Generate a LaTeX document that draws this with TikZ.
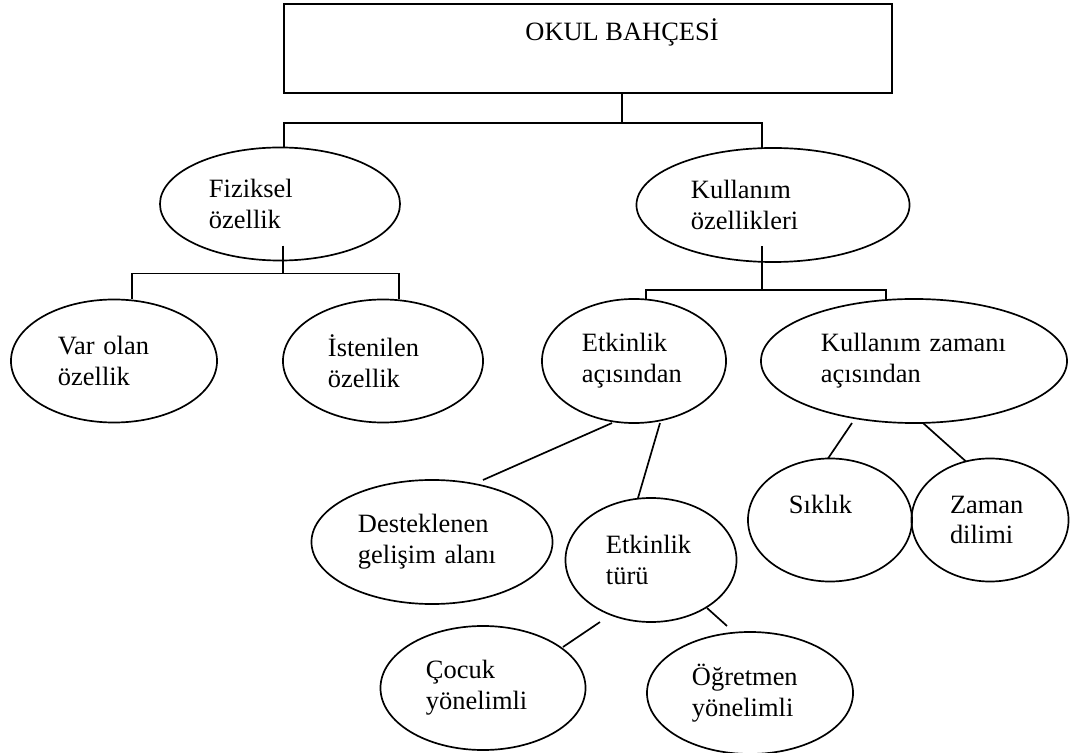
\documentclass[tikz,border=0pt]{standalone}
\usepackage{fontspec}
\setmainfont{Liberation Serif}
\usetikzlibrary{shapes.geometric,calc}

\begin{document}
\begin{tikzpicture}[x=0.025cm, y=-0.025cm, font=\fontsize{18.8}{22}\selectfont,
    ell/.style={draw, ellipse, line width=1.2pt, inner sep=0pt, outer sep=0pt, align=left},
    link/.style={line width=1.2pt}]
    \useasboundingbox (0,0) rectangle (1072,753);
    % top box
    \node[draw, line width=1.2pt, outer sep=0pt, anchor=north west, minimum width=15.2cm, minimum height=2.225cm] (okul) at (284,4) {};
    \node[anchor=base] (baslik) at (622,41) {OKUL BAHÇESİ};
    % second level
    \node[ell, minimum width=6cm, minimum height=2.825cm, text width=3.55cm] (fiz) at (280,204) {Fiziksel\\özellik};
    \node[ell, minimum width=6.825cm, minimum height=2.85cm, text width=4.1cm] (kul) at (773,205) {Kullanım\\özellikleri};
    % third level
    \node[ell, minimum width=5.15cm, minimum height=3.075cm, text width=2.8cm] (var) at (114,361) {Var olan\\özellik};
    \node[ell, minimum width=5cm, minimum height=3.075cm, text width=2.75cm] (ist) at (383,361) {İstenilen\\özellik};
    \node[ell, minimum width=4.6cm, minimum height=3.1cm, text width=2.6cm] (eta) at (634,361) {Etkinlik\\açısından};
    \node[ell, minimum width=7.65cm, minimum height=3.1cm, text width=4.65cm] (kz) at (914,361) {Kullanım zamanı\\açısından};
    % lower level
    \node[ell, minimum width=6.025cm, minimum height=3.1cm, text width=3.7cm] (des) at (432,542) {Desteklenen\\gelişim alanı};
    \node[ell, minimum width=4.275cm, minimum height=3.1cm, text width=2.25cm] (etur) at (651,560) {Etkinlik\\türü};
    \node[ell, minimum width=4.1cm, minimum height=3.075cm, text width=2.05cm] (sik) at (830,520) {Sıklık\\\phantom{x}};
    \node[ell, minimum width=3.925cm, minimum height=3.075cm, text width=2cm] (zam) at (990,520) {Zaman\\dilimi};
    \node[ell, minimum width=5.125cm, minimum height=3.1cm, text width=2.85cm] (coc) at (483,688) {Çocuk\\yönelimli};
    \node[ell, minimum width=5.15cm, minimum height=3.05cm, text width=2.9cm] (ogr) at (750,693) {Öğretmen\\yönelimli};
    % tree lines
    \draw[link] (baslik |- okul.south) -- ++(0,30) coordinate (j0);
    \draw[link] ($(fiz.north)+(4,0)$) |- (j0) -| ($(kul.north)+(-11,0)$);
    \draw[link] ($(fiz.south)+(3,-15)$) -- ++(0,28) coordinate (j1);
    \draw[link] ($(var.north)+(18,0)$) |- (j1) -| ($(ist.north)+(16,0)$);
    \draw[link] ($(kul.south)+(-11,-16)$) -- ++(0,44) coordinate (j2);
    \draw[link] ($(eta.north)+(12,0)$) |- (j2) -| ($(kz.north)+(-28,0)$);
    % slanted lines
    \draw[link] ($(eta.south)+(-22,0)$) -- ($(des.north)+(51,0)$);
    \draw[link] ($(eta.south)+(26,0)$) -- ($(etur.north)+(-13,0)$);
    \draw[link] ($(kz.south)+(-62,0)$) -- ($(sik.north)+(-2,0)$);
    \draw[link] ($(kz.south)+(9,0)$) -- ($(zam.north)+(-24,3)$);
    \draw[link] ($(etur.south)+(-51,0)$) -- ($(coc.north)+(80,21)$);
    \draw[link] ($(etur.south)+(56,-14)$) -- ($(ogr.north)+(-23,-6)$);
\end{tikzpicture}
\end{document}
